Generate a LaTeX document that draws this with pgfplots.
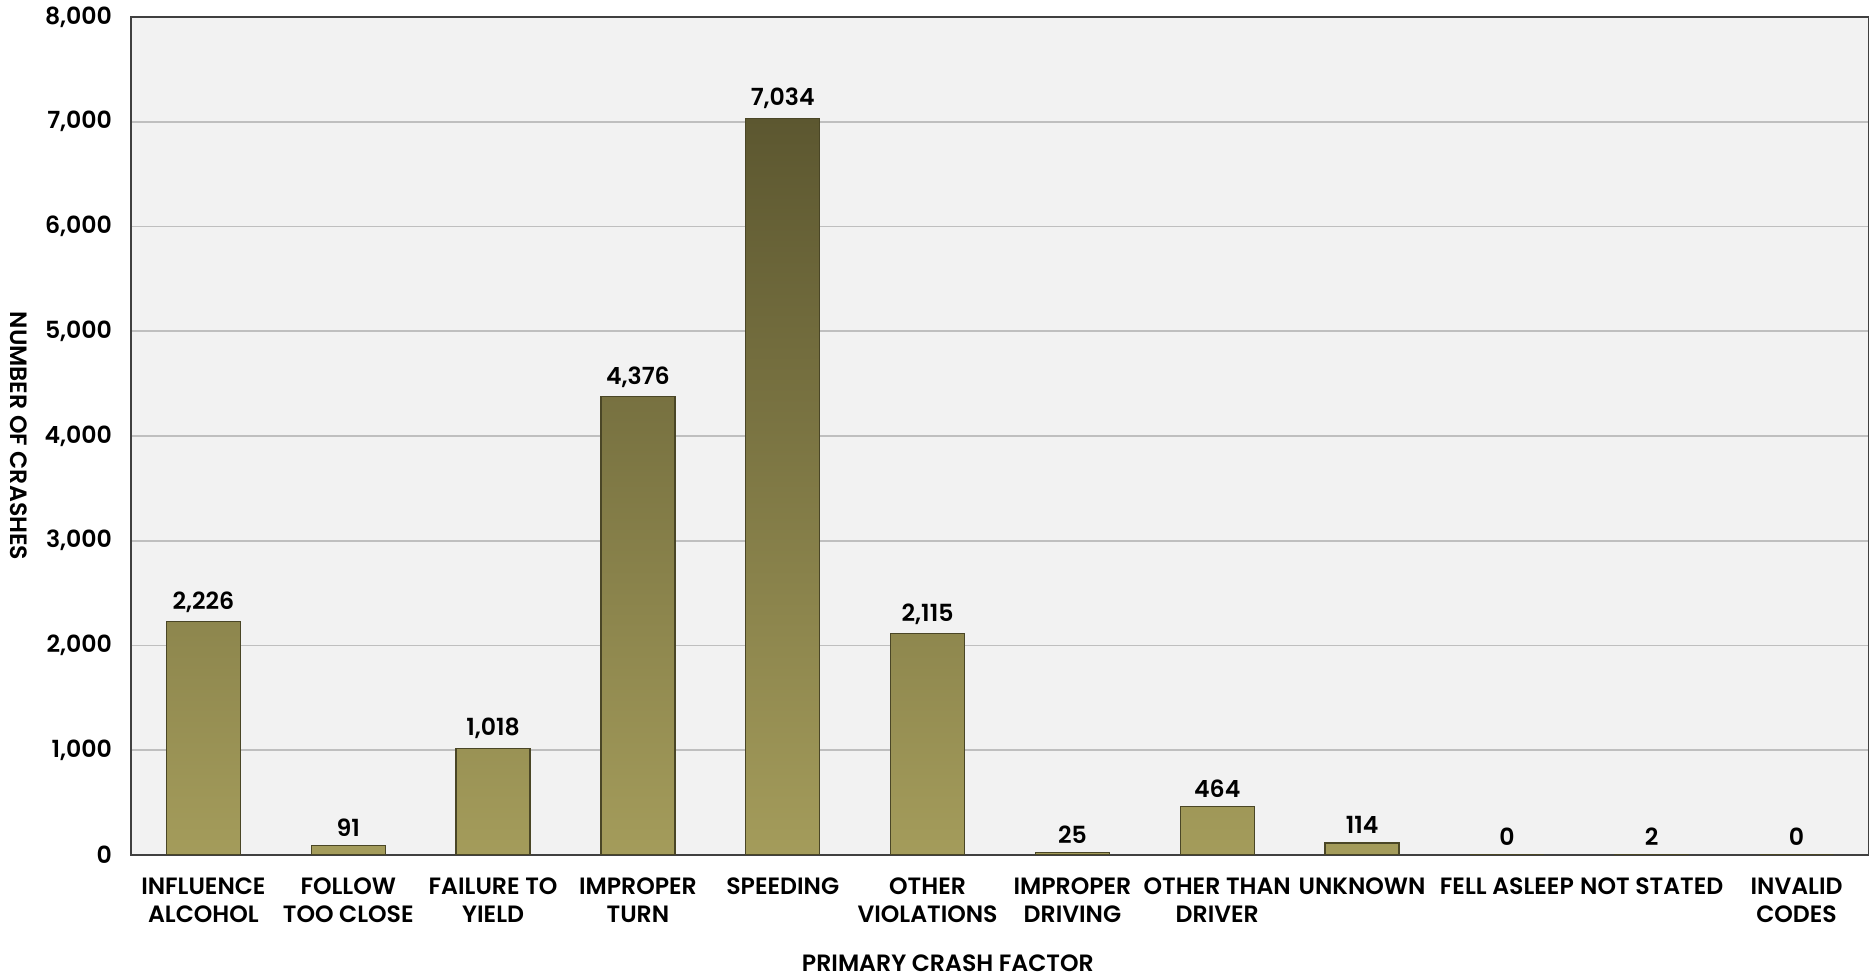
\documentclass[border=0pt]{standalone}
\usepackage{fontspec}
\IfFontExistsTF{Poppins SemiBold}{\setmainfont{Poppins}[BoldFont={Poppins SemiBold}]}{\setmainfont{Poppins}}
\usepackage{pgfplots}
\pgfplotsset{compat=1.18}
\usepackage{pgfplotstable}
\definecolor{bgc}{HTML}{F2F2F2}
\definecolor{gridc}{HTML}{BFBFBF}
\definecolor{framec}{HTML}{404040}
\definecolor{barTop}{HTML}{5C5730}
\definecolor{barBot}{HTML}{A49C5B}
\definecolor{barEdge}{HTML}{4A4626}
\pgfplotstableread{
x y
0 2226
1 91
2 1018
3 4376
4 7034
5 2115
6 25
7 464
8 114
9 0
10 2
11 0
}\crashdata
\newcommand{\lblfont}{\fontsize{11.8}{14}\selectfont\bfseries}
\begin{document}
\begin{tikzpicture}
\begin{axis}[
  scale only axis, width=869pt, height=419pt,
  xmin=-0.5, xmax=11.5, ymin=0, ymax=8000,
  axis background/.style={fill=bgc},
  axis line style={framec, line width=0.8pt},
  ymajorgrids, grid style={gridc, line width=0.8pt},
  major tick length=0pt,
  ytick={0,1000,...,8000},
  xtick={0,...,11},
  xticklabels={{INFLUENCE\\ALCOHOL},{FOLLOW\\TOO CLOSE},{FAILURE TO\\YIELD},{IMPROPER\\TURN},{SPEEDING},{OTHER\\VIOLATIONS},{IMPROPER\\DRIVING},{OTHER THAN\\DRIVER},{UNKNOWN},{FELL ASLEEP},{NOT STATED},{INVALID\\CODES}},
  xticklabel style={align=center, font=\lblfont, anchor=north, yshift=-8pt},
  yticklabel style={font=\lblfont, xshift=-6pt},
  /pgf/number format/assume math mode=true,
  /pgf/number format/1000 sep={,},
  ylabel={NUMBER OF CRASHES},
  ylabel style={font=\lblfont, rotate=180, at={(axis description cs:-0.0645,0.5)}, anchor=center},
  xlabel={PRIMARY CRASH FACTOR},
  xlabel style={font=\lblfont, at={(axis description cs:0.47,-0.129)}, anchor=center},
  nodes near coords,
  nodes near coords style={font=\lblfont, anchor=south, yshift=1pt, /pgf/number format/1000 sep={,}, /pgf/number format/assume math mode=true},
]
\addplot[ybar, bar width=37pt, bar shift=0pt, draw=barEdge, line width=0.6pt, top color=barTop, bottom color=barBot, restrict y to domain=0.5:100000] table[x=x,y=y]{\crashdata};
\addplot[ybar, bar width=37pt, bar shift=0pt, draw=barEdge, line width=1pt, restrict y to domain=-1:0.5] table[x=x,y=y]{\crashdata};
\end{axis}
\pgfresetboundingbox
\path ([xshift=-65.5pt,yshift=-62pt]current axis.south west) rectangle ([yshift=8.5pt]current axis.north east);
\end{tikzpicture}
\end{document}
